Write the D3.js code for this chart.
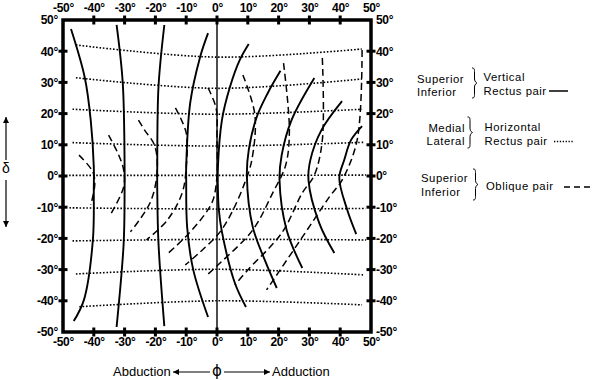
<!DOCTYPE html>
<html><head><meta charset="utf-8">
<script src="https://cdn.jsdelivr.net/npm/d3@7"></script>
<style>
body{margin:0;background:#fff}
svg{display:block}
text{font-family:"Liberation Sans",Arial,Helvetica,sans-serif;fill:#000}
</style>
</head><body>
<svg id="chart" width="596" height="380"></svg>
<script>
// ---------- DATA ----------
const tickValues = [-50,-40,-30,-20,-10,0,10,20,30,40,50];
const tickLabels = ["-50°","-40°","-30°","-20°","-10°","0°","10°","20°","30°","40°","50°"];

// Vertical rectus pair (solid), points [phi, delta]
const verticalRectus = [
  [[-47.4,47.1],[-42.9,31.4],[-41.0,17.9],[-40.0,2.9],[-40.0,-3.8],[-40.3,-20.5],[-43.2,-39.7],[-46.5,-46.5]],
  [[-32.6,48.4],[-30.6,29.8],[-30.0,2.9],[-30.0,-4.5],[-30.3,-21.5],[-32.6,-48.4]],
  [[-17.1,48.4],[-19.0,28.5],[-19.4,2.9],[-19.4,-4.5],[-19.0,-21.5],[-17.1,-48.1]],
  [[-2.9,45.8],[-5.5,38.1],[-8.7,23.4],[-10.0,2.9],[-10.0,-1.3],[-9.7,-16.3],[-7.7,-30.1],[-2.9,-45.2]],
  [[10.3,42.3],[7.4,37.2],[4.2,28.5],[1.6,17.9],[0.3,2.9],[0.3,-4.5],[0.6,-10.9],[1.6,-17.9],[5.8,-34.3],[9.4,-42.0]],
  [[20.6,33.7],[16.5,26.6],[12.9,18.9],[10.3,8.3],[9.7,0],[11.6,-16.3],[15.5,-26.9],[19.4,-35.9]],
  [[31.6,31.4],[24.2,17.9],[21.0,6.7],[20.3,-1.3],[22.6,-17.3],[27.7,-29.5]],
  [[40.6,24.0],[33.9,14.7],[30.3,5.1],[29.7,-1.3],[33.2,-15.1],[38.1,-24.7]],
  [[47.1,16.0],[43.5,11.5],[41.3,5.1],[39.7,-0.6],[42.3,-10.9],[45.2,-18.6]]
];

// Horizontal rectus pair (dotted)
const horizontalRectus = [
  [[-45.8,42.0],[0,38.1],[47.0,40.7]],
  [[-45.8,31.5],[0,28.1],[47.1,31.1]],
  [[-46.9,21.4],[0,19.8],[47.1,21.4]],
  [[-46.9,10.7],[0,9.6],[47.7,10.8]],
  [[-48.0,0.2],[0,0.2],[48.4,0.3]],
  [[-47.9,-10.2],[0,-10.6],[48.3,-10.4]],
  [[-46.9,-20.8],[0,-20.3],[48.4,-20.5]],
  [[-45.8,-31.4],[0,-29.9],[47.7,-31.7]],
  [[-44.7,-41.9],[0,-40.0],[47.1,-41.3]]
];

// Oblique pair (dashed)
const obliquePair = [
  [[-44.8,6.7],[-40.3,1.3],[-39.7,-2.9],[-41.0,-9.3]],
  [[-35.2,13.1],[-31.9,6.7],[-30.3,1.9],[-30.3,-3.5],[-34.5,-12.2]],
  [[-25.5,17.9],[-23.5,14.7],[-20.3,9.9],[-19.4,1.9],[-21.6,-8.3],[-28.1,-17.9]],
  [[-13.5,21.8],[-10.0,13.8],[-10.0,2.9],[-11.3,-5.4],[-16.1,-14.1],[-22.9,-20.5]],
  [[-2.9,28.2],[-0.3,21.8],[0,11.5],[0,0],[-1.3,-7.7],[-3.9,-12.2],[-10.3,-19.6],[-16.5,-25.3]],
  [[8.4,32.4],[12.3,19.6],[11.3,5.1],[9.0,-2.2],[5.2,-10.9],[1.0,-17.9],[-5.5,-24.4],[-10.3,-28.5]],
  [[21.6,36.2],[23.5,14.7],[22.3,3.5],[18.1,-5.4],[11.6,-17.3],[1.0,-27.9],[-3.2,-31.7]],
  [[34.2,37.8],[34.2,11.5],[31.6,0.3],[27.7,-5.4],[21.0,-18.3],[10.0,-30.1],[5.8,-34.9]],
  [[47.1,40.4],[45.5,11.5],[40.6,-1.3],[36.5,-6.7],[27.7,-19.6],[16.1,-36.5]]
];

const legendGroups = [
  {left:["Superior","Inferior"], right:["Vertical","Rectus pair"], kind:"solid"},
  {left:["Medial","Lateral"], right:["Horizontal","Rectus pair"], kind:"dotted"},
  {left:["Superior","Inferior"], right:["Oblique pair"], kind:"dashed"}
];
const xAxisTitle = ["Abduction","ϕ","Adduction"];
const yAxisTitle = "δ";

// ---------- DRAW ----------
const svg = d3.select("#chart");
const x = d3.scaleLinear().domain([-50,50]).range([63,371]);
const y = d3.scaleLinear().domain([-50,50]).range([332,20]);

const line = d3.line().x(d=>x(d[0])).y(d=>y(d[1])).curve(d3.curveCatmullRom.alpha(0.5));

// vertical zero line
svg.append("line").attr("x1",x(0)).attr("x2",x(0)).attr("y1",y(50)).attr("y2",y(-50))
  .attr("stroke","#000").attr("stroke-width",1.4);

svg.append("g").selectAll("path").data(horizontalRectus).join("path")
  .attr("d",line).attr("fill","none").attr("stroke","#000")
  .attr("stroke-width",1.6).attr("stroke-dasharray","1.6,1.8");

svg.append("g").selectAll("path").data(obliquePair).join("path")
  .attr("d",line).attr("fill","none").attr("stroke","#000")
  .attr("stroke-width",1.5).attr("stroke-dasharray","7,4");

svg.append("g").selectAll("path").data(verticalRectus).join("path")
  .attr("d",line).attr("fill","none").attr("stroke","#000")
  .attr("stroke-width",1.9);

// frame
svg.append("rect").attr("x",x(-50)).attr("y",y(50)).attr("width",x(50)-x(-50)).attr("height",y(-50)-y(50))
  .attr("fill","none").attr("stroke","#000").attr("stroke-width",3.5);

const inner = tickValues.slice(1,-1);
const fmt = v => tickLabels[tickValues.indexOf(v)];
// crossing tick marks
const tickLen = 4.5;
svg.append("g").selectAll("line").data(inner).join("line")
  .attr("x1",d=>x(d)).attr("x2",d=>x(d)).attr("y1",y(50)-tickLen).attr("y2",y(50)+tickLen)
  .attr("stroke","#000").attr("stroke-width",3);
svg.append("g").selectAll("line").data(inner).join("line")
  .attr("x1",d=>x(d)).attr("x2",d=>x(d)).attr("y1",y(-50)-tickLen).attr("y2",y(-50)+tickLen)
  .attr("stroke","#000").attr("stroke-width",3);
svg.append("g").selectAll("line").data(inner).join("line")
  .attr("y1",d=>y(d)).attr("y2",d=>y(d)).attr("x1",x(-50)-tickLen).attr("x2",x(-50)+tickLen)
  .attr("stroke","#000").attr("stroke-width",3);
svg.append("g").selectAll("line").data(inner).join("line")
  .attr("y1",d=>y(d)).attr("y2",d=>y(d)).attr("x1",x(50)-tickLen).attr("x2",x(50)+tickLen)
  .attr("stroke","#000").attr("stroke-width",3);

// tick labels via d3 axes (no tick lines)
function labels(axisGen, transform){
  const g = svg.append("g").attr("transform",transform).call(axisGen);
  g.select(".domain").remove();
  g.selectAll(".tick line").remove();
  g.selectAll(".tick text").attr("fill","#000")
    .style("font-family","'Liberation Sans',Arial,sans-serif")
    .style("font-weight","bold").style("font-size","12px").style("letter-spacing","-0.3px");
}
labels(d3.axisTop(x).tickValues(tickValues).tickFormat(fmt).tickSize(0).tickPadding(0), `translate(0,${y(50)-8})`);
labels(d3.axisBottom(x).tickValues(tickValues).tickFormat(fmt).tickSize(0).tickPadding(0), `translate(0,${y(-50)+5})`);
labels(d3.axisLeft(y).tickValues(tickValues).tickFormat(fmt).tickSize(0).tickPadding(0), `translate(${x(-50)-5},0)`);
labels(d3.axisRight(y).tickValues(tickValues).tickFormat(fmt).tickSize(0).tickPadding(0), `translate(${x(50)+5},0)`);

// ---------- LEGEND ----------
function brace(x0, y0, y1, w){
  const ym = (y0+y1)/2, xm = x0 + w*0.5;
  return `M${x0},${y0} C${xm},${y0} ${xm},${y0+1} ${xm},${y0+5} L${xm},${ym-4} C${xm},${ym-1} ${x0+w},${ym} ${x0+w},${ym}`+
         ` C${x0+w},${ym} ${xm},${ym+1} ${xm},${ym+4} L${xm},${y1-5} C${xm},${y1-1} ${xm},${y1} ${x0},${y1}`;
}
const lg = svg.append("g").style("font-size","11.3px").style("letter-spacing","0.55px");
// group 1
lg.append("text").attr("x",417).attr("y",83).text(legendGroups[0].left[0]);
lg.append("text").attr("x",417).attr("y",96).text(legendGroups[0].left[1]);
lg.append("path").attr("d",brace(472,68,98,5)).attr("fill","none").attr("stroke","#000").attr("stroke-width",1);
lg.append("text").attr("x",483.5).attr("y",81).text(legendGroups[0].right[0]);
lg.append("text").attr("x",483.5).attr("y",94.5).text(legendGroups[0].right[1]);
lg.append("line").attr("x1",549).attr("x2",568).attr("y1",91).attr("y2",91).attr("stroke","#000").attr("stroke-width",1.5);
// group 2
lg.append("text").attr("x",465).attr("y",131.5).attr("text-anchor","end").text(legendGroups[1].left[0]);
lg.append("text").attr("x",465).attr("y",145).attr("text-anchor","end").text(legendGroups[1].left[1]);
lg.append("path").attr("d",brace(467.5,117,148,5)).attr("fill","none").attr("stroke","#000").attr("stroke-width",1);
lg.append("text").attr("x",484.5).attr("y",131).text(legendGroups[1].right[0]);
lg.append("text").attr("x",484.5).attr("y",144.5).text(legendGroups[1].right[1]);
lg.append("line").attr("x1",554).attr("x2",573).attr("y1",141.5).attr("y2",141.5).attr("stroke","#000")
  .attr("stroke-width",1.3).attr("stroke-dasharray","1.3,1.6");
// group 3
lg.append("text").attr("x",421).attr("y",182).text(legendGroups[2].left[0]);
lg.append("text").attr("x",421).attr("y",196).text(legendGroups[2].left[1]);
lg.append("path").attr("d",brace(473,169,200,5)).attr("fill","none").attr("stroke","#000").attr("stroke-width",1);
lg.append("text").attr("x",486).attr("y",189.5).text(legendGroups[2].right[0]);
lg.append("line").attr("x1",564).attr("x2",593).attr("y1",187).attr("y2",187).attr("stroke","#000")
  .attr("stroke-width",1.5).attr("stroke-dasharray","6,4");

// ---------- AXIS TITLES ----------
svg.append("defs").html(`<marker id="ah" viewBox="0 0 10 10" refX="10" refY="5" markerWidth="8" markerHeight="6" markerUnits="userSpaceOnUse" orient="auto"><path d="M0,0 L10,5 L0,10 z" fill="#000"/></marker>`);
svg.append("text").attr("x",113).attr("y",376).style("font-size","13px").text(xAxisTitle[0]);
svg.append("line").attr("x1",210).attr("x2",173).attr("y1",372).attr("y2",372).attr("stroke","#000").attr("stroke-width",1.2).attr("marker-end","url(#ah)");
svg.append("text").attr("x",217).attr("y",376).attr("text-anchor","middle").style("font-size","15px")
  .style("font-family","'DejaVu Sans',sans-serif").text(xAxisTitle[1]);
svg.append("line").attr("x1",224).attr("x2",270).attr("y1",372).attr("y2",372).attr("stroke","#000").attr("stroke-width",1.2).attr("marker-end","url(#ah)");
svg.append("text").attr("x",272).attr("y",376).style("font-size","13px").text(xAxisTitle[2]);

svg.append("line").attr("x1",6).attr("x2",6).attr("y1",160).attr("y2",117).attr("stroke","#000").attr("stroke-width",1.2).attr("marker-end","url(#ah)");
svg.append("text").attr("x",6).attr("y",173).attr("text-anchor","middle").style("font-size","14px").text(yAxisTitle);
svg.append("line").attr("x1",6).attr("x2",6).attr("y1",180).attr("y2",227).attr("stroke","#000").attr("stroke-width",1.2).attr("marker-end","url(#ah)");
</script>
</body></html>
